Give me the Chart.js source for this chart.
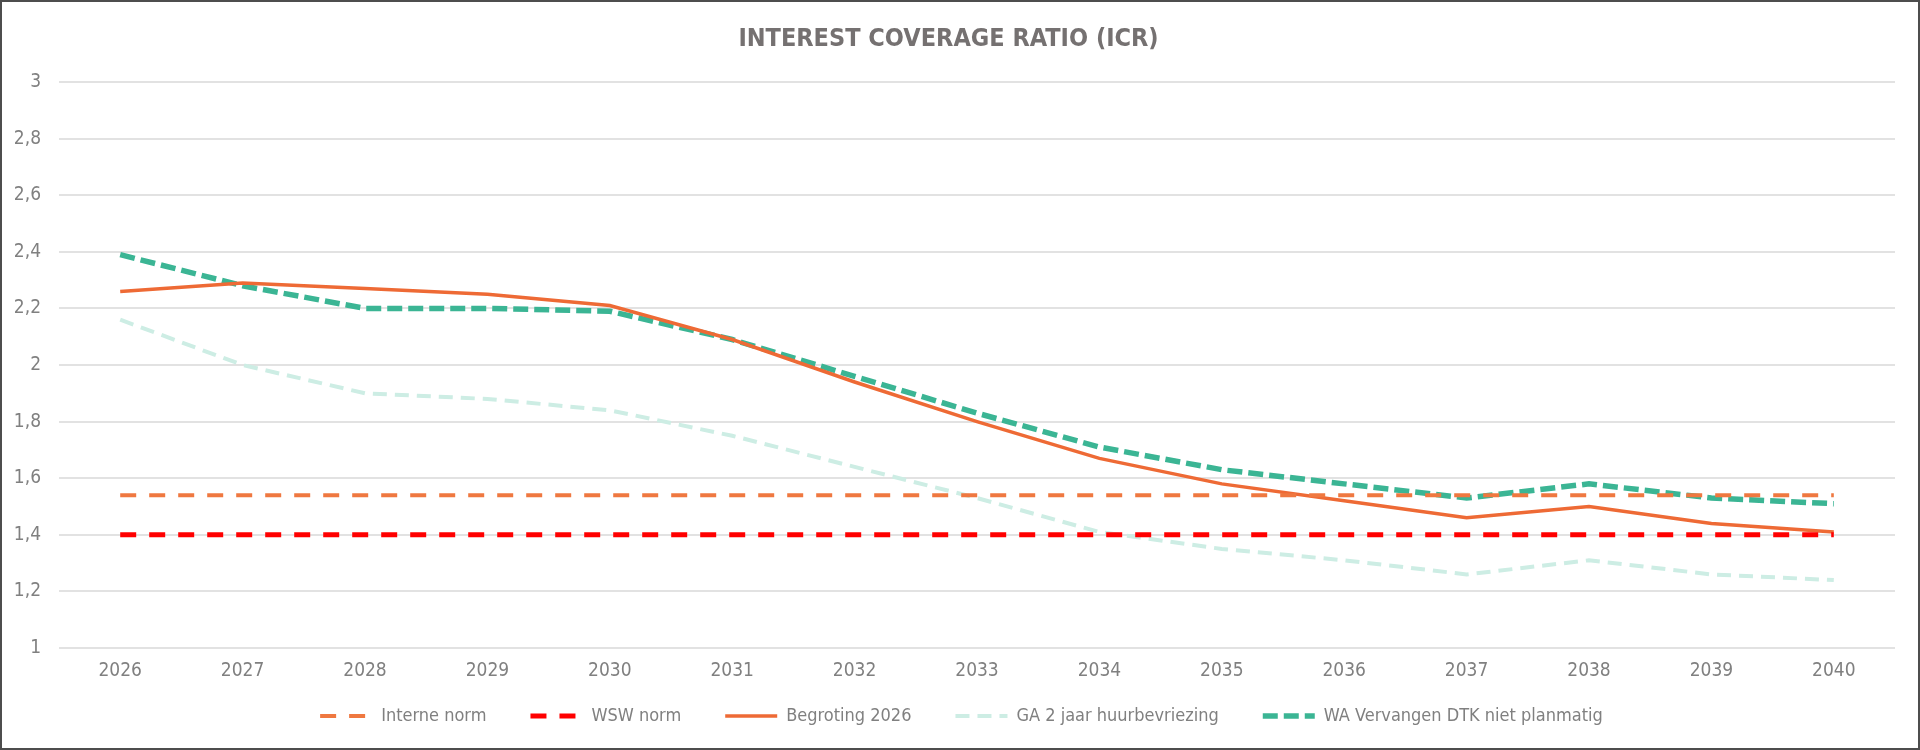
<!DOCTYPE html>
<html>
<head>
<meta charset="utf-8">
<script src="https://cdn.jsdelivr.net/npm/chart.js@4.4.1/dist/chart.umd.min.js"></script>
<style>
  html, body { margin: 0; padding: 0; background: #ffffff; }
  #wrap { width: 1920px; height: 750px; box-sizing: border-box; border: 2px solid #4d4d4d; background: #ffffff; }
  canvas { display: block; }
</style>
</head>
<body>
<div id="wrap"><canvas id="c" width="1916" height="746"></canvas></div>
<script>
const chartTitle = 'INTEREST COVERAGE RATIO (ICR)';
const years = ['2026','2027','2028','2029','2030','2031','2032','2033','2034','2035','2036','2037','2038','2039','2040'];
const seriesNames = ['Interne norm', 'WSW norm', 'Begroting 2026', 'GA 2 jaar huurbevriezing', 'WA Vervangen DTK niet planmatig'];
const interneNorm = [1.54,1.54,1.54,1.54,1.54,1.54,1.54,1.54,1.54,1.54,1.54,1.54,1.54,1.54,1.54];
const wswNorm     = [1.40,1.40,1.40,1.40,1.40,1.40,1.40,1.40,1.40,1.40,1.40,1.40,1.40,1.40,1.40];
const begroting   = [2.26,2.29,2.27,2.25,2.21,2.09,1.94,1.80,1.67,1.58,1.52,1.46,1.50,1.44,1.41];
const gaHuur      = [2.16,2.00,1.90,1.88,1.84,1.75,1.64,1.53,1.41,1.35,1.31,1.26,1.31,1.26,1.24];
const waVervangen = [2.39,2.28,2.20,2.20,2.19,2.09,1.96,1.83,1.71,1.63,1.58,1.53,1.58,1.53,1.51];
const yMin = 1, yMax = 3, yStep = 0.2;

const FONT = "'Liberation Sans Narrow', 'DejaVu Sans Condensed', Lato, sans-serif";
const TXT = '#808080';

function ds(label, data, color, width, dash) {
  return {
    label: label, data: data,
    borderColor: color, backgroundColor: color,
    borderWidth: width, borderDash: dash,
    borderCapStyle: 'butt',
    pointRadius: 0, pointHoverRadius: 0,
    fill: false, tension: 0
  };
}

// Legend: compact box for layout, then nudge its drawing position
const legendFix = {
  id: 'legendFix',
  beforeUpdate: function (chart) {
    const lg = chart.legend;
    if (lg && !lg._fixed) {
      const orig = lg.fit;
      lg.fit = function () { orig.call(this); this.height = 62; };
      lg._fixed = true;
    }
  },
  afterLayout: function (chart) {
    const lg = chart.legend;
    if (lg) {
      lg.top = 661; lg.bottom = 746;
      lg.left += 13; lg.right += 13;
    }
  }
};

new Chart(document.getElementById('c'), {
  type: 'line',
  data: {
    labels: years,
    datasets: [
      ds(seriesNames[0], interneNorm, '#EF7840', 4, [16, 13]),
      ds(seriesNames[1], wswNorm, '#FF0000', 5, [16, 13]),
      ds(seriesNames[2], begroting, '#EE6A35', 3.5, []),
      ds(seriesNames[3], gaHuur, '#CDEDE4', 4, [14, 8]),
      ds(seriesNames[4], waVervangen, '#3BB594', 5.5, [15, 6])
    ]
  },
  plugins: [legendFix],
  options: {
    responsive: false,
    animation: false,
    devicePixelRatio: 1,
    layout: { padding: { left: 0, right: 23, top: 0, bottom: 0 } },
    plugins: {
      tooltip: { enabled: false },
      title: {
        display: true, text: chartTitle, color: '#757171',
        font: { family: FONT, size: 25, weight: 'bold' },
        padding: { top: 22, bottom: 28 }
      },
      legend: {
        position: 'bottom',
        labels: {
          usePointStyle: true, pointStyle: 'line', pointStyleWidth: 52,
          color: TXT, font: { family: FONT, size: 18 }, padding: 44,
          generateLabels: function (chart) {
            const items = Chart.defaults.plugins.legend.labels.generateLabels(chart);
            items.forEach(function (it) {
              const d = chart.data.datasets[it.datasetIndex];
              it.lineDash = d.borderDash;
              it.lineWidth = d.borderWidth;
              it.strokeStyle = d.borderColor;
              it.lineCap = 'butt';
              it.pointStyle = 'line';
            });
            return items;
          }
        }
      }
    },
    scales: {
      x: {
        offset: true,
        afterFit: function (scale) { scale.height = 38; },
        grid: { display: false, drawTicks: false },
        border: { display: false },
        ticks: { color: TXT, font: { family: FONT, size: 19 }, padding: 12, maxRotation: 0 }
      },
      y: {
        min: yMin, max: yMax,
        afterFit: function (scale) { scale.width = 57; },
        grid: { color: '#E2E2E2', lineWidth: 2, drawTicks: false },
        border: { display: false },
        ticks: {
          stepSize: yStep, color: TXT, font: { family: FONT, size: 19 }, padding: 18,
          callback: function (v) { return String(Math.round(v * 10) / 10).replace('.', ','); }
        }
      }
    }
  }
});
</script>
</body>
</html>
